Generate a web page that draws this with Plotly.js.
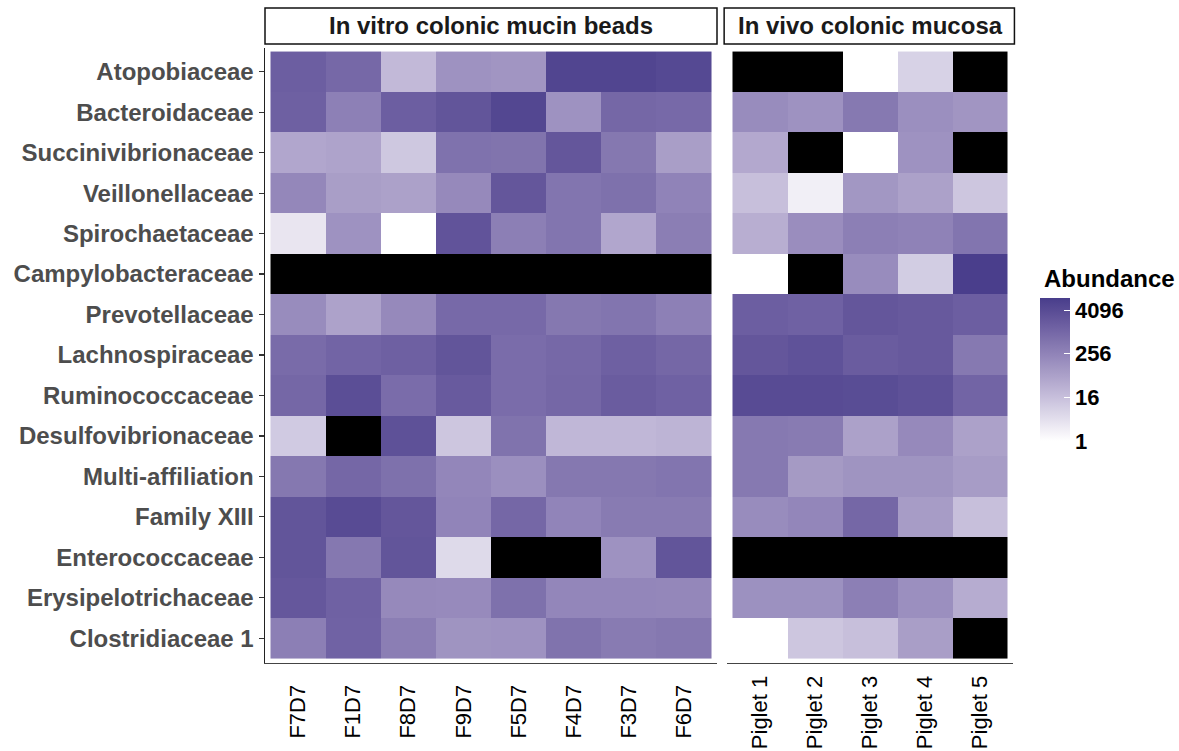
<!DOCTYPE html>
<html>
<head>
<meta charset="utf-8">
<script src="https://cdn.plot.ly/plotly-3.0.1.min.js"></script>
<style>html,body{margin:0;padding:0;background:#fff;}#chart{width:1179px;height:751px;}</style>
</head>
<body>
<div id="chart"></div>
<script>
// Row categories (top to bottom)
const families = ["Atopobiaceae","Bacteroidaceae","Succinivibrionaceae","Veillonellaceae","Spirochaetaceae",
  "Campylobacteraceae","Prevotellaceae","Lachnospiraceae","Ruminococcaceae","Desulfovibrionaceae",
  "Multi-affiliation","Family XIII","Enterococcaceae","Erysipelotrichaceae","Clostridiaceae 1"];

// Column categories
const vitroSamples = ["F7D7","F1D7","F8D7","F9D7","F5D7","F4D7","F3D7","F6D7"];
const vivoSamples = ["Piglet 1","Piglet 2","Piglet 3","Piglet 4","Piglet 5"];

// Abundance values (null = NA, drawn black)
const vitroAbundance = [
  [1550, 955, 21, 128, 111, 5800, 5800, 4700],
  [1450, 294, 1550, 2520, 5400, 128, 1024, 890],
  [49, 56, 11, 600, 560, 2350, 446, 74],
  [208, 74, 64, 194, 2350, 512, 630, 256],
  [3, 128, 1, 2700, 315, 512, 49, 338],
  [null, null, null, null, null, null, null, null],
  [169, 60, 194, 890, 890, 446, 512, 294],
  [832, 1176, 1448, 2520, 776, 955, 1448, 1024],
  [1024, 3566, 776, 1911, 776, 1024, 1783, 1351],
  [10, null, 3104, 12, 588, 23, 23, 26],
  [446, 1024, 630, 223, 147, 446, 446, 512],
  [2521, 4096, 2353, 239, 1024, 239, 388, 388],
  [2521, 446, 2521, 5, null, null, 128, 2521],
  [2195, 1351, 194, 181, 630, 223, 223, 208],
  [315, 1261, 338, 119, 128, 588, 388, 446]
];
const vivoAbundance = [
  [null, null, 1, 7, null],
  [169, 128, 416, 147, 111],
  [45, null, 1, 128, null],
  [16, 2, 104, 64, 12],
  [34, 158, 315, 274, 512],
  [1, null, 169, 9, 8192],
  [1552, 1351, 2353, 2048, 1552],
  [2353, 2896, 1783, 2048, 416],
  [4096, 4096, 3822, 3104, 1176],
  [416, 388, 64, 194, 64],
  [416, 91, 119, 119, 79],
  [169, 223, 1024, 79, 16],
  [null, null, null, null, null],
  [137, 137, 315, 147, 37],
  [1, 12, 16, 74, null]
];

const legendTickVals = [1, 16, 256, 4096];
const panelTitles = ["In vitro colonic mucin beads", "In vivo colonic mucosa"];
const legendTitle = "Abundance";

// ---- colour scale: white -> darkslateblue interpolated in CIELAB (like ggplot) ----
function lin(c){c/=255;return c<=0.04045?c/12.92:Math.pow((c+0.055)/1.055,2.4);}
function unlin(c){const v=c<=0.0031308?12.92*c:1.055*Math.pow(c,1/2.4)-0.055;return Math.max(0,Math.min(255,Math.round(v*255)));}
const WN=[0.95047,1,1.08883];
function f(t){return t>0.008856?Math.cbrt(t):7.787*t+16/116;}
function finv(t){return t>0.206893?t*t*t:(t-16/116)/7.787;}
function rgb2lab(c){const R=lin(c[0]),G=lin(c[1]),B=lin(c[2]);
  const X=(0.4124*R+0.3576*G+0.1805*B)/WN[0],Y=(0.2126*R+0.7152*G+0.0722*B)/WN[1],Z=(0.0193*R+0.1192*G+0.9505*B)/WN[2];
  const fx=f(X),fy=f(Y),fz=f(Z);return [116*fy-16,500*(fx-fy),200*(fy-fz)];}
function lab2rgb(l){const fy=(l[0]+16)/116,fx=fy+l[1]/500,fz=fy-l[2]/200;
  const X=finv(fx)*WN[0],Y=finv(fy)*WN[1],Z=finv(fz)*WN[2];
  const R=3.2406*X-1.5372*Y-0.4986*Z,G=-0.9689*X+1.8758*Y+0.0415*Z,B=0.0557*X-0.2040*Y+1.0570*Z;
  return 'rgb('+unlin(R)+','+unlin(G)+','+unlin(B)+')';}
const lowLab=rgb2lab([255,255,255]), highLab=rgb2lab([72,61,139]);
const scale=[];
for(let i=0;i<=20;i++){const t=i/20;scale.push([t,lab2rgb([0,1,2].map(k=>lowLab[k]+(highLab[k]-lowLab[k])*t))]);}

const zmax = 13.1;
const log2z = m => m.map(r => r.map(v => v===null?null:Math.log2(v)));
const naz = m => m.map(r => r.map(v => v===null?1:null));

const FONT = "Liberation Sans, Arial, sans-serif";

const traces = [
  {type:'heatmap', x:vitroSamples, y:families, z:log2z(vitroAbundance), xaxis:'x', yaxis:'y',
   colorscale:scale, zmin:0, zmax:zmax, showscale:true, hoverongaps:false,
   colorbar:{thickness:30, thicknessmode:'pixels', len:143, lenmode:'pixels',
     x:1040/1179, xanchor:'left', y:1-441/751, yanchor:'bottom', xpad:0, ypad:0,
     outlinewidth:0, ticks:'inside', ticklen:6, tickcolor:'white', tickwidth:1,
     tickvals:legendTickVals.map(v=>Math.log2(v)), ticktext:legendTickVals.map(String),
     tickfont:{family:FONT, size:22, color:'#000', weight:'bold'}}},
  {type:'heatmap', x:vitroSamples, y:families, z:naz(vitroAbundance), xaxis:'x', yaxis:'y',
   colorscale:[[0,'#000'],[1,'#000']], showscale:false, hoverongaps:false},
  {type:'heatmap', x:vivoSamples, y:families, z:log2z(vivoAbundance), xaxis:'x2', yaxis:'y',
   colorscale:scale, zmin:0, zmax:zmax, showscale:false, hoverongaps:false},
  {type:'heatmap', x:vivoSamples, y:families, z:naz(vivoAbundance), xaxis:'x2', yaxis:'y',
   colorscale:[[0,'#000'],[1,'#000']], showscale:false, hoverongaps:false}
];

const xTickFont = {family:FONT, size:22, color:'#000'};
const layout = {
  width:1179, height:751, margin:{l:0,r:0,t:0,b:0},
  paper_bgcolor:'#fff', plot_bgcolor:'#fff', showlegend:false,
  xaxis:{domain:[265/1179, 717/1179], type:'category', categoryorder:'array', categoryarray:vitroSamples,
    range:[-0.6, 7.6], anchor:'y', showline:true, linecolor:'#444', linewidth:1.5, ticks:'',
    tickangle:-90, tickfont:xTickFont, ticklabelstandoff:12, showgrid:false, zeroline:false},
  xaxis2:{domain:[727/1179, 1013/1179], type:'category', categoryorder:'array', categoryarray:vivoSamples,
    range:[-0.6, 4.6], anchor:'y', showline:true, linecolor:'#444', linewidth:1.5, ticks:'',
    tickangle:-90, tickfont:xTickFont, ticklabelstandoff:3, showgrid:false, zeroline:false},
  yaxis:{domain:[1-662.5/751, 1-47.5/751], type:'category', categoryorder:'array', categoryarray:families,
    range:[14.6, -0.6], anchor:'x', showline:true, linecolor:'#222', linewidth:1.5,
    ticks:'outside', ticklen:5, tickcolor:'#333', tickwidth:1.2,
    tickfont:{family:FONT, size:24, color:'#4D4D4D', weight:'bold'}, showgrid:false, zeroline:false},
  shapes:[
    {type:'rect', xref:'x domain', yref:'paper', x0:0, x1:1, y0:1-44/751, y1:1-8/751,
     line:{color:'#111', width:1.5}, fillcolor:'#fff'},
    {type:'rect', xref:'x2 domain', yref:'paper', x0:-0.01, x1:1.005, y0:1-44/751, y1:1-8/751,
     line:{color:'#111', width:1.5}, fillcolor:'#fff'}
  ],
  annotations:[
    {xref:'x domain', yref:'paper', x:0.5, y:1-26/751, text:panelTitles[0], showarrow:false,
     font:{family:FONT, size:24, color:'#1a1a1a', weight:'bold'}, xanchor:'center', yanchor:'middle'},
    {xref:'x2 domain', yref:'paper', x:0.5, y:1-26/751, text:panelTitles[1], showarrow:false,
     font:{family:FONT, size:24, color:'#1a1a1a', weight:'bold'}, xanchor:'center', yanchor:'middle'},
    {xref:'paper', yref:'paper', x:1042/1179, y:1-278/751, text:legendTitle, showarrow:false,
     font:{family:FONT, size:24, color:'#000', weight:'bold'}, xanchor:'left', yanchor:'middle'}
  ]
};

Plotly.newPlot('chart', traces, layout, {staticPlot:true, displayModeBar:false});
</script>
</body>
</html>
